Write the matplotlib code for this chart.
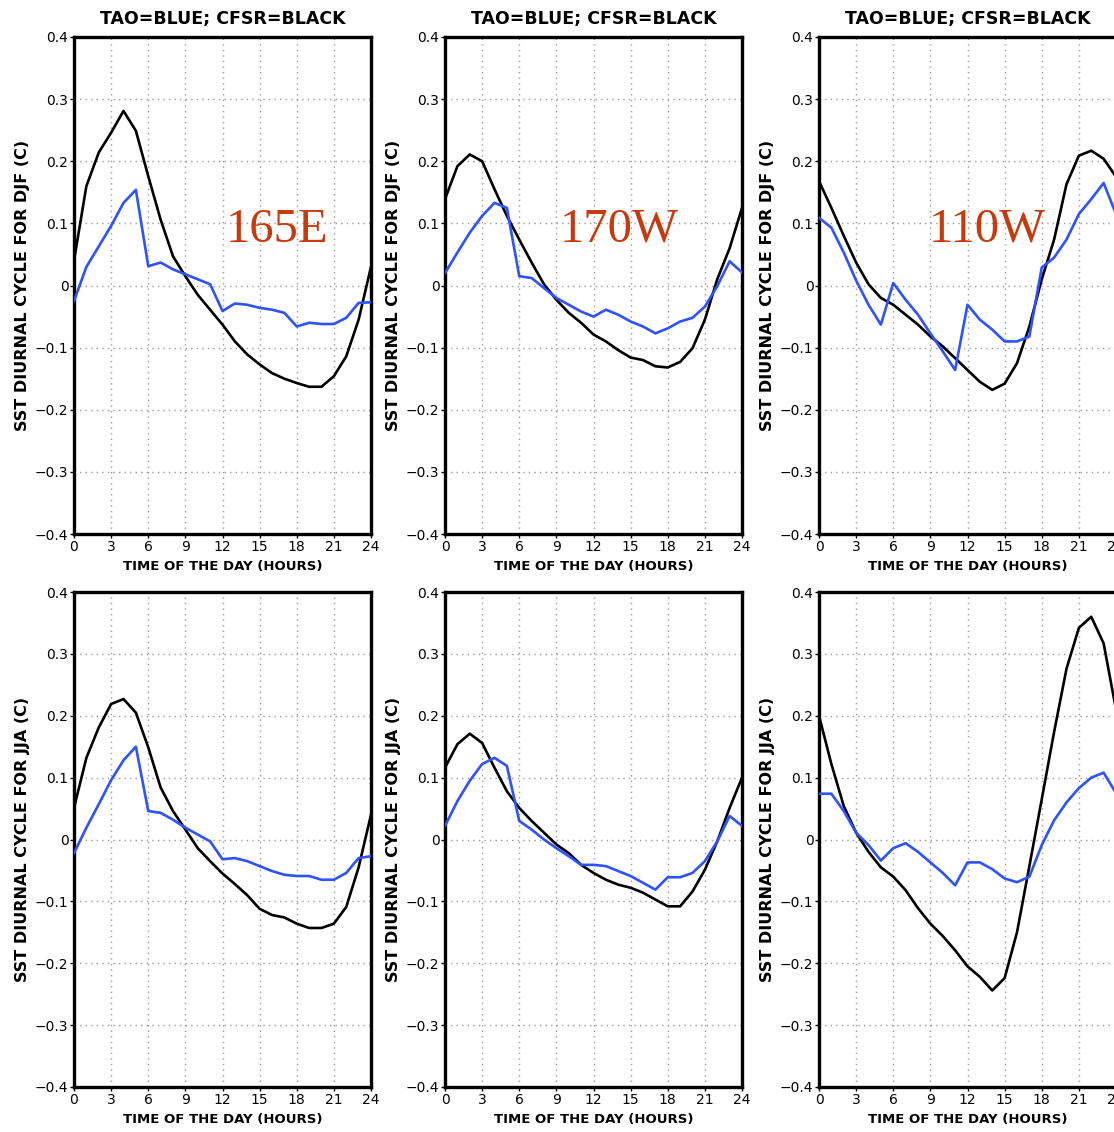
import numpy as np
import matplotlib
matplotlib.use("Agg")
import matplotlib.pyplot as plt

# hourly diurnal SST anomalies (C), hours 0..24
hours = np.arange(0, 25)

tao_djf_165e = [-0.025, 0.03, 0.063, 0.096, 0.133, 0.154, 0.031, 0.037, 0.026, 0.018, 0.01, 0.002,
                -0.041, -0.029, -0.031, -0.036, -0.039, -0.044, -0.066, -0.06, -0.062, -0.062,
                -0.052, -0.028, -0.027]
cfsr_djf_165e = [0.04, 0.16, 0.214, 0.246, 0.281, 0.249, 0.176, 0.106, 0.047, 0.015, -0.015, -0.039,
                 -0.063, -0.09, -0.111, -0.127, -0.141, -0.15, -0.157, -0.163, -0.163, -0.146,
                 -0.114, -0.055, 0.03]

tao_djf_170w = [0.02, 0.053, 0.085, 0.112, 0.133, 0.125, 0.015, 0.012, -0.004, -0.02, -0.031, -0.042,
                -0.05, -0.039, -0.047, -0.058, -0.066, -0.077, -0.069, -0.058, -0.052, -0.034,
                -0.001, 0.039, 0.021]
cfsr_djf_170w = [0.139, 0.192, 0.211, 0.2, 0.155, 0.112, 0.074, 0.037, 0.002, -0.023, -0.044, -0.06,
                 -0.079, -0.09, -0.104, -0.116, -0.12, -0.13, -0.132, -0.123, -0.101, -0.055,
                 0.01, 0.06, 0.125]

tao_djf_110w = [0.109, 0.093, 0.053, 0.008, -0.031, -0.063, 0.004, -0.023, -0.047, -0.077, -0.106,
                -0.136, -0.031, -0.055, -0.071, -0.09, -0.09, -0.082, 0.029, 0.045, 0.074, 0.115,
                0.139, 0.165, 0.115]
cfsr_djf_110w = [0.168, 0.125, 0.08, 0.037, 0.002, -0.02, -0.031, -0.047, -0.063, -0.082, -0.098,
                 -0.117, -0.136, -0.155, -0.168, -0.158, -0.125, -0.066, 0.01, 0.074, 0.163, 0.209,
                 0.217, 0.204, 0.175]

tao_jja_165e = [-0.022, 0.019, 0.057, 0.096, 0.128, 0.15, 0.046, 0.043, 0.032, 0.019, 0.008, -0.003,
                -0.032, -0.03, -0.035, -0.043, -0.051, -0.057, -0.059, -0.059, -0.065, -0.065,
                -0.054, -0.03, -0.027]
cfsr_jja_165e = [0.051, 0.132, 0.181, 0.219, 0.227, 0.205, 0.149, 0.084, 0.046, 0.016, -0.014, -0.035,
                 -0.055, -0.072, -0.09, -0.112, -0.122, -0.126, -0.136, -0.143, -0.143, -0.136,
                 -0.109, -0.045, 0.04]

tao_jja_170w = [0.022, 0.062, 0.095, 0.122, 0.132, 0.119, 0.03, 0.016, 0.0, -0.014, -0.027, -0.041,
                -0.041, -0.043, -0.051, -0.059, -0.07, -0.081, -0.061, -0.061, -0.054, -0.035,
                -0.003, 0.038, 0.022]
cfsr_jja_170w = [0.116, 0.154, 0.171, 0.156, 0.116, 0.078, 0.051, 0.03, 0.011, -0.008, -0.022, -0.041,
                 -0.054, -0.065, -0.073, -0.078, -0.086, -0.097, -0.108, -0.108, -0.084, -0.049,
                 -0.003, 0.051, 0.1]

tao_jja_110w = [0.074, 0.074, 0.046, 0.011, -0.009, -0.034, -0.014, -0.006, -0.02, -0.037, -0.054,
                -0.074, -0.037, -0.037, -0.048, -0.063, -0.069, -0.06, -0.009, 0.031, 0.06, 0.083,
                0.1, 0.108, 0.075]
cfsr_jja_110w = [0.2, 0.122, 0.054, 0.011, -0.02, -0.045, -0.06, -0.082, -0.111, -0.136, -0.156,
                 -0.179, -0.205, -0.222, -0.244, -0.224, -0.15, -0.043, 0.065, 0.174, 0.276, 0.342,
                 0.36, 0.317, 0.21]

sites = ["165E", "170W", "110W"]
site_x = [16.4, 14.1, 13.6]
seasons = ["DJF", "JJA"]
tao = [[tao_djf_165e, tao_djf_170w, tao_djf_110w],
       [tao_jja_165e, tao_jja_170w, tao_jja_110w]]
cfsr = [[cfsr_djf_165e, cfsr_djf_170w, cfsr_djf_110w],
        [cfsr_jja_165e, cfsr_jja_170w, cfsr_jja_110w]]

xticks = [0, 3, 6, 9, 12, 15, 18, 21, 24]
yticks = [-0.4, -0.3, -0.2, -0.1, 0, 0.1, 0.2, 0.3, 0.4]
yticklabels = ["\u22120.4", "\u22120.3", "\u22120.2", "\u22120.1", "0", "0.1", "0.2", "0.3", "0.4"]

W, H = 1114, 1132
fig = plt.figure(figsize=(W / 100, H / 100), dpi=100)

# panel placement in pixels
lefts = [74, 445, 819]
tops = [37, 592]
ax_w = 297
ax_h = [497, 495]

for r in range(2):
    for c in range(3):
        x0 = lefts[c] / W
        y0 = 1 - (tops[r] + ax_h[r]) / H
        ax = fig.add_axes([x0, y0, ax_w / W, ax_h[r] / H])
        ax.plot(hours, cfsr[r][c], color="black", lw=1.9, zorder=3)
        ax.plot(hours, tao[r][c], color="#2f52ff", lw=1.9, zorder=4)

        ax.set_xlim(0, 24)
        ax.set_ylim(-0.4, 0.4)
        ax.set_xticks(xticks)
        ax.set_xticklabels([str(t) for t in xticks], fontsize=10)
        ax.set_yticks(yticks)
        ax.set_yticklabels(yticklabels, fontsize=10)
        ax.tick_params(direction="out", length=3, width=1, pad=1)
        ax.grid(True, color="#9a9a9a", ls=(0, (1, 3)), lw=1.0)
        for s in ax.spines.values():
            s.set_linewidth(2.4)
            s.set_color("black")

        ax.set_ylabel("SST DIURNAL CYCLE FOR %s (C)" % seasons[r], fontsize=11.5,
                      fontweight="bold")
        ax.yaxis.set_label_coords(-44 / ax_w, 0.5)
        ax.set_xlabel("TIME OF THE DAY (HOURS)", fontsize=9.5, fontweight="bold")
        ax.xaxis.set_label_coords(0.5, -26 / ax_h[r])

        if r == 0:
            ax.set_title("TAO=BLUE; CFSR=BLACK", fontsize=12.5, fontweight="bold", pad=9)
            ax.text(site_x[c], 0.09, sites[c], fontsize=35, family="Liberation Serif",
                    color="#c63a0e", ha="center", va="center")

fig.savefig("out.png", dpi=100)
